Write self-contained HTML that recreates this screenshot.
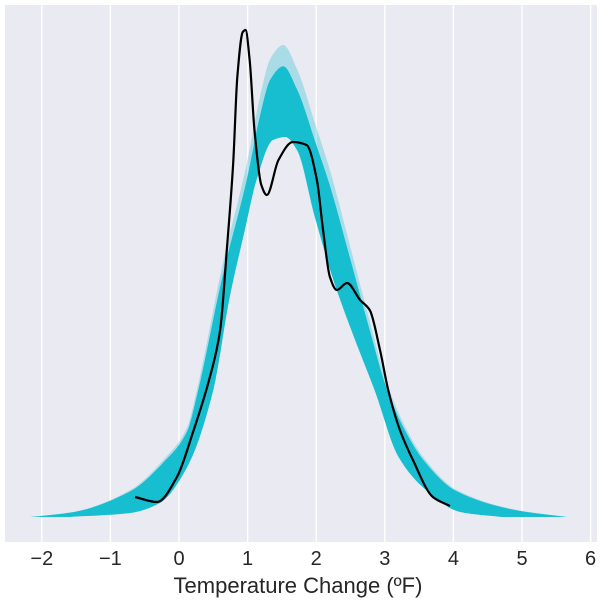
<!DOCTYPE html>
<html><head><meta charset="utf-8"><style>
html,body{margin:0;padding:0;background:#fff;}
svg{display:block;font-family:"Liberation Sans",sans-serif;}
</style></head><body>
<svg id="chart" width="600" height="600"></svg>
<script>
const xTicks=[-2,-1,0,1,2,3,4,5,6];
const bandUpperX=[-2.17,-1.55,-0.71,-0.23,0.12,0.26,0.64,0.99,1.18,1.33,1.52,1.72,2.0,2.2,2.49,2.78,3.03,3.3,3.56,4.05,4.93,5.66];
const bandUpperD=[0,0.005,0.027,0.057,0.09,0.127,0.254,0.354,0.42,0.458,0.472,0.448,0.39,0.347,0.272,0.196,0.134,0.09,0.06,0.027,0.007,0];
const bandLowerX=[-1.6,-0.71,-0.28,0.12,0.5,0.74,0.96,1.13,1.37,1.55,1.72,1.98,2.25,2.55,2.85,3.2,3.6,4.1,4.7];
const bandLowerD=[0,0.004,0.014,0.05,0.127,0.22,0.287,0.337,0.377,0.38,0.367,0.3,0.237,0.18,0.127,0.06,0.027,0.005,0];
const obsX=[-0.64,-0.32,-0.03,0.2,0.45,0.6,0.7,0.79,0.85,0.93,0.97,1.03,1.1,1.2,1.28,1.45,1.66,1.86,2.01,2.1,2.2,2.3,2.45,2.64,2.78,2.93,3.05,3.22,3.41,3.7,3.95];
const obsD=[0.02,0.015,0.04,0.084,0.14,0.187,0.27,0.354,0.44,0.485,0.487,0.457,0.387,0.332,0.322,0.357,0.375,0.372,0.337,0.287,0.24,0.227,0.234,0.217,0.207,0.167,0.127,0.087,0.057,0.02,0.011];

const NS='http://www.w3.org/2000/svg';
const svg=document.getElementById('chart');
const L=5,R=597,T=5,B=542;
const X=v=>179+v*68.6;
const Y=d=>517-d*1000;
function mk(tag,attrs,parent){const e=document.createElementNS(NS,tag);for(const k in attrs)e.setAttribute(k,attrs[k]);(parent||svg).appendChild(e);return e;}
function tangents(pts){
  const n=pts.length,dx=[],s=[],m=[];
  for(let i=0;i<n-1;i++){dx[i]=pts[i+1][0]-pts[i][0];s[i]=(pts[i+1][1]-pts[i][1])/dx[i];}
  m[0]=s[0];m[n-1]=s[n-2];
  for(let i=1;i<n-1;i++){m[i]=(s[i-1]*s[i]<=0)?0:(3*(dx[i-1]+dx[i]))/((2*dx[i]+dx[i-1])/s[i-1]+(dx[i]+2*dx[i-1])/s[i]);}
  return {dx,m};
}
function mono(pts){
  const {dx,m}=tangents(pts);
  let d='M'+pts[0][0]+','+pts[0][1];
  for(let i=0;i<pts.length-1;i++){const h=dx[i]/3;
    d+=' C'+(pts[i][0]+h)+','+(pts[i][1]+m[i]*h)+' '+(pts[i+1][0]-h)+','+(pts[i+1][1]-m[i+1]*h)+' '+pts[i+1][0]+','+pts[i+1][1];}
  return d;
}
function monoRev(pts){
  const {dx,m}=tangents(pts);const n=pts.length;
  let d=' L'+pts[n-1][0]+','+pts[n-1][1];
  for(let i=n-2;i>=0;i--){const h=dx[i]/3;
    d+=' C'+(pts[i+1][0]-h)+','+(pts[i+1][1]-m[i+1]*h)+' '+(pts[i][0]+h)+','+(pts[i][1]+m[i]*h)+' '+pts[i][0]+','+pts[i][1];}
  return d;
}

const bg=mk('rect',{x:L,y:T,width:R-L,height:B-T,fill:'#eaeaf2'});


xTicks.forEach(t=>{
  const g=mk('line',{x1:X(t),x2:X(t),y1:T,y2:B,stroke:'#fff','stroke-width':1.3});
  
  
  const lb=mk('text',{x:X(t),y:565,'text-anchor':'middle','font-size':20,fill:'#262626'});
  lb.textContent=(t<0?'\u2212'+(-t):t);
  
  
});
const up=bandUpperX.map((x,i)=>[X(x),Y(bandUpperD[i])]);
const upCore=bandUpperX.map((x,i)=>[X(x),Y(bandUpperD[i]*0.955)]);
const lo=bandLowerX.map((x,i)=>[X(x),Y(bandLowerD[i])]);
const fr=mk('path',{d:mono(up)+monoRev(upCore)+' Z',fill:'#17becf','fill-opacity':0.3});


const band=mk('path',{d:mono(upCore)+monoRev(lo)+' Z',fill:'#17becf'});


const obs=obsX.map((x,i)=>[X(x),Y(obsD[i])]);
const ln=mk('path',{d:mono(obs),fill:'none',stroke:'#000','stroke-width':2.2});


const tt=mk('text',{x:298,y:593,'text-anchor':'middle','font-size':22,fill:'#262626'});
tt.textContent='Temperature Change (\u00baF)';


</script>
</body></html>
